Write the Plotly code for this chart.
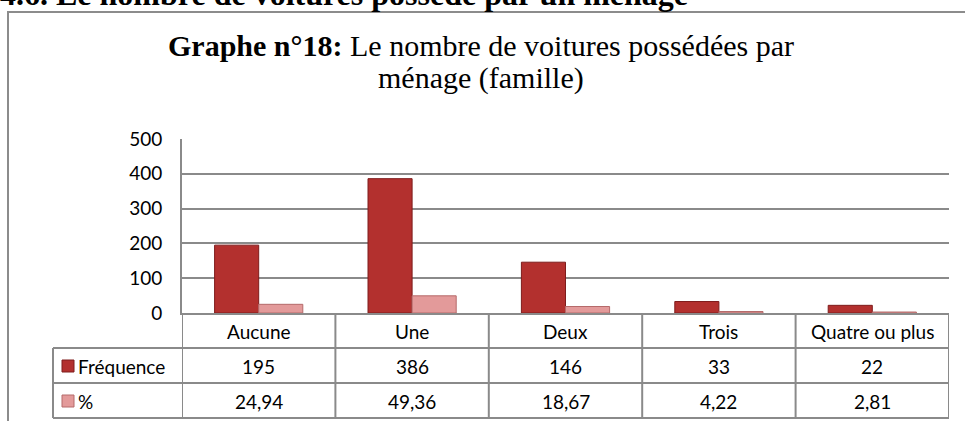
import plotly.graph_objects as go

# Data
categories = ["Aucune", "Une", "Deux", "Trois", "Quatre ou plus"]
frequence = [195, 386, 146, 33, 22]
pourcent = [24.94, 49.36, 18.67, 4.22, 2.81]
series_names = ["Fréquence", "%"]
y_ticks = [0, 100, 200, 300, 400, 500]

W, H = 965, 421
L, R, T, B = 182, 16, 139, 108
PW, PH = W - L - R, H - T - B

RED, RED_EDGE = "#B3302E", "#7E1C1C"
PINK, PINK_EDGE = "#E39A9A", "#B56A6A"
GRID = "#8A8A8A"
FONT = "Lato"
SERIF = "Liberation Serif"


def px(x):
    return (x - L) / PW


def py(y):
    return (H - B - y) / PH


def fmt(v):
    return f"{v:.2f}".replace(".", ",")


def label(x, y, text, font, xref="paper", xanchor="center"):
    return dict(x=x, xref=xref, y=y, yref="paper", text=text, showarrow=False,
                xanchor=xanchor, yanchor="middle", font=font)


fig = go.Figure()
fig.add_trace(go.Bar(x=categories, y=frequence, name=series_names[0],
                     marker=dict(color=RED, line=dict(color=RED_EDGE, width=1))))
fig.add_trace(go.Bar(x=categories, y=pourcent, name=series_names[1],
                     marker=dict(color=PINK, line=dict(color=PINK_EDGE, width=1))))

shapes = []
annotations = []

# outer chart frame
shapes.append(dict(type="rect", xref="paper", yref="paper",
                   x0=px(8), x1=px(990), y0=py(440), y1=py(12),
                   line=dict(color="#8C8C8C", width=2), fillcolor="rgba(0,0,0,0)"))

# data table: horizontal rules
for yy in [348, 383, 418]:
    shapes.append(dict(type="line", xref="paper", yref="paper",
                       x0=px(53), x1=1, y0=py(yy), y1=py(yy),
                       line=dict(color=GRID, width=2)))
# data table: vertical rules on category boundaries
n = len(categories)
for k in range(n + 1):
    shapes.append(dict(type="line", xref="x", yref="paper",
                       x0=k - 0.5, x1=k - 0.5, y0=py(313), y1=py(418),
                       line=dict(color=GRID, width=2)))
shapes.append(dict(type="line", xref="paper", yref="paper",
                   x0=px(53), x1=px(53), y0=py(348), y1=py(418),
                   line=dict(color=GRID, width=2)))

# table contents
cell_font = dict(family=FONT, size=19, color="black")
for i, c in enumerate(categories):
    annotations.append(label(i, py(331), c, cell_font, xref="x"))
    annotations.append(label(i, py(366), str(frequence[i]), cell_font, xref="x"))
    annotations.append(label(i, py(401), fmt(pourcent[i]), cell_font, xref="x"))

# legend keys in the table
for name, yc, col, edge in [(series_names[0], 366, RED, RED_EDGE),
                            (series_names[1], 401, PINK, PINK_EDGE)]:
    shapes.append(dict(type="rect", xref="paper", yref="paper",
                       x0=px(62), x1=px(74), y0=py(yc + 6), y1=py(yc - 6),
                       fillcolor=col, line=dict(color=edge, width=1)))
    annotations.append(label(px(76), py(yc), name, cell_font, xanchor="left"))

# titles
annotations.append(label(px(-2), py(-6),
                         "<b>4.6. Le nombre de voitures possédé par un ménage</b>",
                         dict(family=SERIF, size=32, color="black"), xanchor="left"))
title_font = dict(family=SERIF, size=30, color="black")
annotations.append(label(px(481), py(45),
                         "<b>Graphe n°18:</b> Le nombre de voitures possédées par",
                         title_font))
annotations.append(label(px(481), py(78), "ménage (famille)", title_font))

fig.update_layout(
    width=W, height=H,
    margin=dict(l=L, r=R, t=T, b=B, pad=0),
    paper_bgcolor="white", plot_bgcolor="white",
    barmode="group", bargap=0.425, bargroupgap=0,
    showlegend=False,
    shapes=shapes, annotations=annotations,
    xaxis=dict(type="category", range=[-0.5, n - 0.5], showticklabels=False,
               showgrid=False, showline=True, linecolor=GRID, linewidth=2,
               ticks="", fixedrange=True),
    yaxis=dict(range=[0, 500], tickvals=y_ticks, showgrid=True, gridcolor=GRID,
               gridwidth=2, showline=True, linecolor=GRID, linewidth=2,
               zeroline=False, ticks="", ticklabelstandoff=14,
               tickfont=dict(family=FONT, size=19, color="black")),
)

fig.write_html("out.html")
